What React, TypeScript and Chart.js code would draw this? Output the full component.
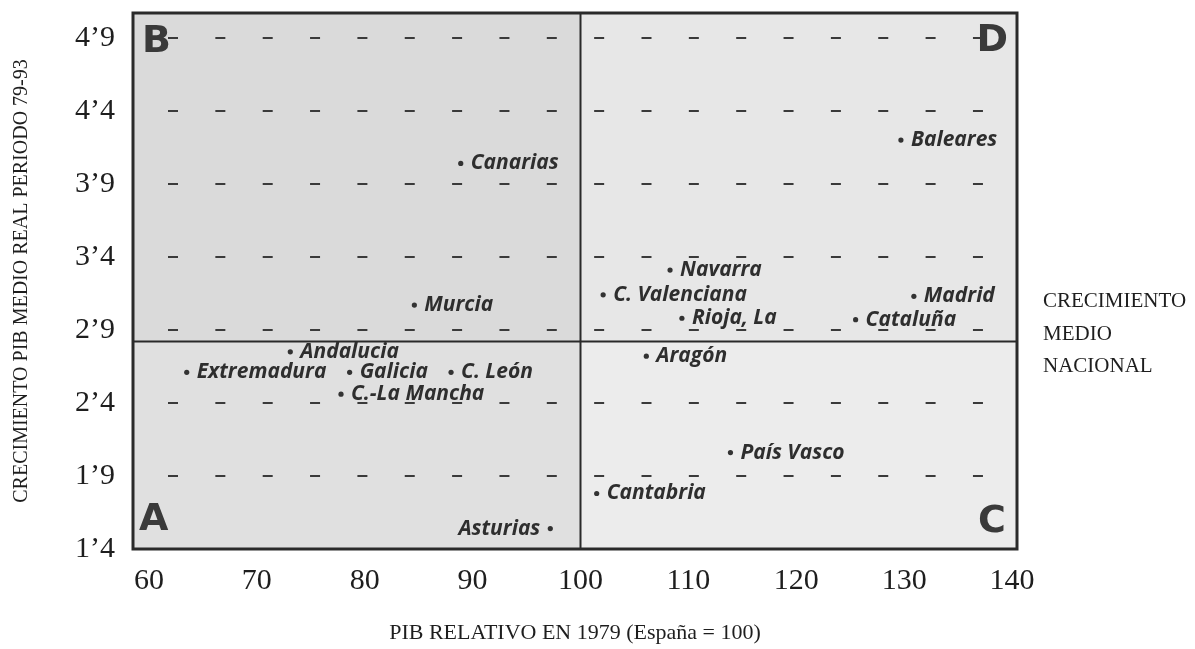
import React, { useEffect, useRef } from "react";
import { Chart, registerables } from "chart.js";

Chart.register(...registerables);

// ---- Data ----
const regions = [
  "Canarias", "Baleares", "Navarra", "C. Valenciana", "Madrid", "Murcia",
  "Rioja, La", "Cataluña", "Andalucia", "Aragón", "Extremadura", "Galicia",
  "C. León", "C.-La Mancha", "País Vasco", "Cantabria", "Asturias",
];
const pibRelativo1979 = [
  88.9, 129.7, 108.3, 102.1, 130.9, 84.6,
  109.4, 125.5, 73.1, 106.1, 63.5, 78.6,
  88.0, 77.8, 113.9, 101.5, 97.2,
];
const crecimientoMedio = [
  4.04, 4.2, 3.31, 3.14, 3.13, 3.07,
  2.98, 2.97, 2.75, 2.72, 2.61, 2.61,
  2.61, 2.46, 2.06, 1.78, 1.54,
];
const labelOnLeft = ["Asturias"];

const xTicks = [60, 70, 80, 90, 100, 110, 120, 130, 140];
const yTicks = [1.4, 1.9, 2.4, 2.9, 3.4, 3.9, 4.4, 4.9];
const yTickLabels = ["1’4", "1’9", "2’4", "2’9", "3’4", "3’9", "4’4", "4’9"];

const spainIndex = 100;
const nationalGrowth = 2.82;
const nationalLabel = ["CRECIMIENTO", "MEDIO", "NACIONAL"];

const xTitle = "PIB RELATIVO EN 1979 (España = 100)";
const yTitle = "CRECIMIENTO PIB MEDIO REAL PERIODO 79-93";

const SERIF = "'Liberation Serif', 'Times New Roman', serif";
const INK = "#2a2a2a";

const decorPlugin = {
  id: "decor",
  beforeDraw(chart: any) {
    const { ctx, chartArea: a, scales } = chart;
    const mx = scales.x.getPixelForValue(spainIndex);
    const my = scales.y.getPixelForValue(nationalGrowth);
    ctx.save();
    ctx.fillStyle = "#dadada"; // B
    ctx.fillRect(a.left, a.top, mx - a.left, my - a.top);
    ctx.fillStyle = "#e7e7e7"; // D
    ctx.fillRect(mx, a.top, a.right - mx, my - a.top);
    ctx.fillStyle = "#e0e0e0"; // A
    ctx.fillRect(a.left, my, mx - a.left, a.bottom - my);
    ctx.fillStyle = "#ececec"; // C
    ctx.fillRect(mx, my, a.right - mx, a.bottom - my);
    ctx.restore();
  },
  afterDatasetsDraw(chart: any) {
    const { ctx, chartArea: a, scales } = chart;
    const xs = scales.x, ys = scales.y;
    const mx = xs.getPixelForValue(spainIndex);
    const my = ys.getPixelForValue(nationalGrowth);
    ctx.save();
    // dividers
    ctx.strokeStyle = INK;
    ctx.lineWidth = 2;
    ctx.beginPath();
    ctx.moveTo(mx, a.top);
    ctx.lineTo(mx, a.bottom);
    ctx.moveTo(a.left, my);
    ctx.lineTo(a.right, my);
    ctx.stroke();
    // frame
    ctx.lineWidth = 3;
    ctx.strokeRect(a.left, a.top, a.right - a.left, a.bottom - a.top);

    // quadrant letters
    ctx.fillStyle = "#3a3a3a";
    ctx.font = "bold 38px 'DejaVu Sans', sans-serif";
    ctx.textBaseline = "top";
    ctx.textAlign = "left";
    ctx.fillText("B", a.left + 9, a.top + 10);
    ctx.textBaseline = "bottom";
    ctx.fillText("A", a.left + 6, a.bottom - 10);
    ctx.textAlign = "right";
    ctx.fillText("C", a.right - 11, a.bottom - 8);
    ctx.textBaseline = "top";
    ctx.fillText("D", a.right - 9, a.top + 9);

    // point labels
    ctx.fillStyle = "#2e2e2e";
    ctx.font = "italic bold 21px 'Open Sans', sans-serif";
    ctx.textBaseline = "middle";
    regions.forEach((name, i) => {
      const px = xs.getPixelForValue(pibRelativo1979[i]);
      const py = ys.getPixelForValue(crecimientoMedio[i]);
      if (labelOnLeft.includes(name)) {
        ctx.textAlign = "right";
        ctx.fillText(name, px - 10, py);
      } else {
        ctx.textAlign = "left";
        ctx.fillText(name, px + 10, py);
      }
    });

    // national growth annotation
    ctx.fillStyle = "#1e1e1e";
    ctx.font = `21px ${SERIF}`;
    ctx.textAlign = "left";
    ctx.textBaseline = "middle";
    nationalLabel.forEach((t, i) => {
      ctx.fillText(t, a.right + 26, my - 40 + i * 32.5);
    });
    ctx.restore();
  },
};

export default function App() {
  const ref = useRef<HTMLCanvasElement>(null);

  useEffect(() => {
    const points = pibRelativo1979.map((x, i) => ({ x, y: crecimientoMedio[i] }));
    const chart = new Chart(ref.current as HTMLCanvasElement, {
      type: "scatter",
      data: {
        datasets: [
          {
            label: "Regiones",
            data: points,
            pointRadius: 2.6,
            pointHoverRadius: 2.6,
            pointBackgroundColor: "#333",
            pointBorderWidth: 0,
          },
        ],
      },
      options: {
        responsive: false,
        animation: false,
        devicePixelRatio: 1,
        layout: { padding: { top: 13, right: 178, bottom: 0, left: 0 } },
        plugins: {
          legend: { display: false },
          tooltip: { enabled: false },
        },
        scales: {
          x: {
            type: "linear",
            min: 58.52,
            max: 140.46,
            afterBuildTicks: (scale: any) => {
              scale.ticks = xTicks.map((v) => ({ value: v }));
            },
            afterFit: (scale: any) => {
              scale.height = 100;
              scale.paddingLeft = 0;
              scale.paddingRight = 0;
            },
            grid: { display: false, drawTicks: false },
            border: { display: false },
            ticks: {
              autoSkip: false,
              maxRotation: 0,
              padding: 14,
              color: "#1e1e1e",
              font: { family: SERIF, size: 30 },
              callback: (v: any) => String(v),
            },
            title: {
              display: true,
              text: xTitle,
              color: "#1e1e1e",
              font: { family: SERIF, size: 22 },
              padding: { top: 0, bottom: 3 },
            },
          },
          y: {
            type: "linear",
            min: 1.4,
            max: 5.07,
            afterBuildTicks: (scale: any) => {
              scale.ticks = yTicks.map((v) => ({ value: v }));
            },
            afterFit: (scale: any) => {
              scale.width = 133;
              scale.paddingTop = 0;
              scale.paddingBottom = 0;
            },
            grid: {
              display: true,
              drawTicks: false,
              color: "#3a3a3a",
              lineWidth: 2,
            },
            border: { display: false, dash: [10, 37.35], dashOffset: 12.35 },
            ticks: {
              autoSkip: false,
              padding: 18,
              color: "#1e1e1e",
              font: { family: SERIF, size: 30 },
              callback: (_v: any, i: number) => yTickLabels[i],
            },
            title: {
              display: true,
              text: yTitle,
              color: "#1e1e1e",
              font: { family: SERIF, size: 20 },
              padding: { top: 10, bottom: 0 },
            },
          },
        },
      },
      plugins: [decorPlugin],
    });
    return () => chart.destroy();
  }, []);

  return (
    <div style={{ position: "absolute", left: 0, top: 0, width: 1195, height: 649, background: "#fff" }}>
      <canvas ref={ref} width={1195} height={649} style={{ display: "block" }} />
    </div>
  );
}
